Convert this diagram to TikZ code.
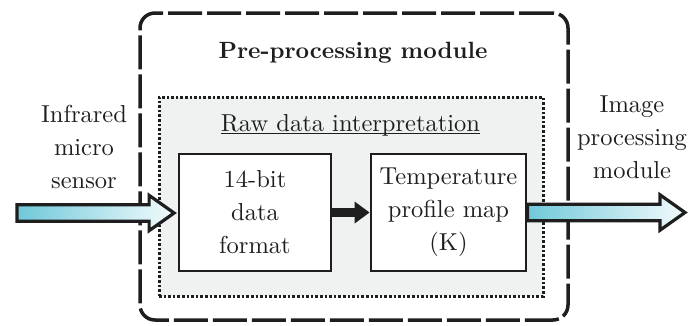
\documentclass[tikz,border=0pt]{standalone}
\usepackage{fontspec}
\setmainfont{lmroman10-regular.otf}[BoldFont=lmroman10-bold.otf]
\usetikzlibrary{arrows.meta,calc}
\definecolor{ink}{HTML}{1E1E1E}
\definecolor{panel}{RGB}{240,242,242}
\definecolor{flowL}{RGB}{112,200,217}
\definecolor{flowR}{RGB}{242,251,253}

\tikzset{
  txt/.style={font=\fontsize{24.5}{33}\selectfont, text=ink, align=center, inner sep=0pt},
  outerframe/.style={draw=ink, line width=3.5pt, dash pattern=on 34pt off 5pt, rounded corners=15pt},
  innerframe/.style={draw=ink, line width=3pt, dash pattern=on 2.6pt off 2pt, fill=panel},
  stage/.style={draw=ink, line width=2.8pt, fill=white, text=ink, align=center, inner sep=0pt,
                font=\fontsize{24.5}{33}\selectfont},
  fatflow/.style={draw=ink, line width=3.2pt, line join=miter, left color=flowL, right color=flowR},
  link/.style={draw=ink, line width=9pt, -{Triangle[length=15pt,width=21pt]}},
}

% broad shaded arrow from the first point to the tip at the second one
\newcommand\fatarrow[2]{%
  \path[fatflow] let \p1=(#1), \p2=(#2) in
    (\x1,\y1+8.3pt) -- (\x2-25pt,\y1+8.3pt) -- (\x2-25pt,\y1+17.7pt) -- (\x2,\y1)
    -- (\x2-25pt,\y1-17.7pt) -- (\x2-25pt,\y1-8.3pt) -- (\x1,\y1-8.3pt) -- cycle;}

\begin{document}
\begin{tikzpicture}[x=1pt,y=-1pt]
\useasboundingbox (0,0) rectangle (694,325);

% module frame and the raw data panel
\node[outerframe, minimum width=428pt, minimum height=307pt] (pre) at (354,166.5) {};
\node[innerframe, minimum width=384pt, minimum height=199pt] (raw) at (351,196.5) {};

\node[txt, font=\fontsize{23.5}{33}\selectfont\bfseries, anchor=base] (title) at (353,58) {Pre-processing module};
\node[txt, anchor=base] (rawlbl) at (350.5,131) {Raw data interpretation};
\draw[ink, line width=1.4pt] ([yshift=-2.5pt]rawlbl.base west) -- ([yshift=-2.5pt]rawlbl.base east);

% processing stages
\node[stage, minimum width=152pt, minimum height=117pt] (fmt) at (255,212.5) {14-bit\\data\\format};
\node[stage, minimum width=155pt, minimum height=117pt] (temp) at (448.5,212.5) {Temperature\\profile map\\(K)};
\draw[link] (fmt.east) -- (temp.west);

% input and output
\node[txt] (src) at (84,146.6) {Infrared\\micro\\sensor};
\node[txt] (dst) at (632,137) {Image\\processing\\module};
\coordinate (srcL) at (17,213);
\coordinate (dstR) at (685,212.5);

\fatarrow{srcL}{$(fmt.west)+(-3.5pt,0)$}
\fatarrow{temp.east}{dstR}
\end{tikzpicture}
\end{document}
